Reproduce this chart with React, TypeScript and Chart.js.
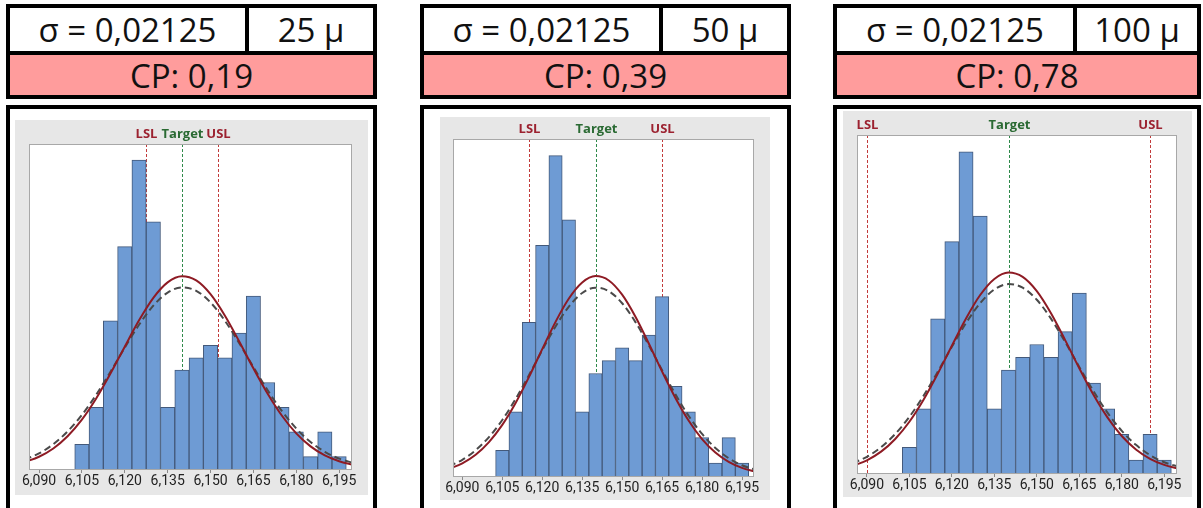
import React, { useEffect, useRef } from "react";
import { Chart, registerables } from "chart.js";

Chart.register(...registerables);

// ---------- data ----------
const binCenters = [
  6.105, 6.11, 6.115, 6.12, 6.125, 6.13, 6.135, 6.14, 6.145, 6.15,
  6.155, 6.16, 6.165, 6.17, 6.175, 6.18, 6.185, 6.19, 6.195,
];
const binCounts = [2, 5, 12, 18, 25, 20, 5, 8, 9, 10, 9, 11, 14, 7, 5, 3, 1, 3, 1];

const curveX = [
  6.085, 6.09, 6.095, 6.1, 6.105, 6.11, 6.115, 6.12, 6.125, 6.13, 6.135, 6.14,
  6.145, 6.15, 6.155, 6.16, 6.165, 6.17, 6.175, 6.18, 6.185, 6.19, 6.195, 6.2,
];
const overallCurve = [
  0.56, 0.99, 1.66, 2.65, 3.99, 5.7, 7.72, 9.9, 12.03, 13.85, 15.1, 15.6,
  15.26, 14.15, 12.43, 10.34, 8.15, 6.09, 4.31, 2.88, 1.83, 1.1, 0.63, 0.34,
];
const withinCurve = [
  0.76, 1.26, 2.01, 3.04, 4.37, 6.01, 7.87, 9.82, 11.67, 13.22, 14.28, 14.7,
  14.42, 13.48, 12.01, 10.2, 8.25, 6.37, 4.68, 3.28, 2.19, 1.39, 0.84, 0.49,
];

const tickValues = [6.09, 6.105, 6.12, 6.135, 6.15, 6.165, 6.18, 6.195];

const sigmaLabel = "σ = 0,02125";
const toleranceLabels = ["25 μ", "50 μ", "100 μ"];
const cpLabels = ["CP: 0,19", "CP: 0,39", "CP: 0,78"];
const lslValues = [6.1275, 6.115, 6.09];
const uslValues = [6.1525, 6.165, 6.19];
const targetValue = 6.14;

// ---------- layout (page pixel coordinates) ----------
type Geo = {
  left: number; right: number; divider: number;
  grey: { l: number; t: number; w: number; h: number };
  plot: { l: number; t: number; r: number; b: number };
};
const panels: Geo[] = [
  { left: 6, right: 377, divider: 245,
    grey: { l: 15, t: 120, w: 353, h: 375 },
    plot: { l: 29, t: 144, r: 352, b: 469 } },
  { left: 420, right: 791, divider: 659,
    grey: { l: 440, t: 117, w: 330, h: 383 },
    plot: { l: 453, t: 139, r: 754, b: 476 } },
  { left: 833, right: 1201, divider: 1073,
    grey: { l: 843, t: 111, w: 349, h: 386 },
    plot: { l: 857, t: 135, r: 1177, b: 473 } },
];

const B = 4; // border width
const HEADER_TOP = 4;
const HEADER_MID = 51;
const HEADER_BOTTOM = 99;
const BOX_TOP = 105;

function Histogram({ idx }: { idx: number }) {
  const ref = useRef<HTMLCanvasElement | null>(null);
  const g = panels[idx];
  useEffect(() => {
    if (!ref.current) return;
    const lsl = lslValues[idx];
    const usl = uslValues[idx];
    const padL = g.plot.l - g.grey.l;
    const padR = g.grey.l + g.grey.w - g.plot.r;
    const padT = g.plot.t - g.grey.t;
    const axisH = g.grey.t + g.grey.h - g.plot.b;

    const specPlugin = {
      id: "spec",
      beforeDatasetsDraw(chart: any) {
        const { ctx, chartArea: a, scales } = chart;
        const x = scales.x;
        ctx.save();
        ctx.fillStyle = "#ffffff";
        ctx.fillRect(a.left, a.top, a.right - a.left, a.bottom - a.top);
        const lines = [
          { v: lsl, label: "LSL", line: "#c23b3b", text: "#9c2230" },
          { v: targetValue, label: "Target", line: "#2f8a4a", text: "#2a6a33" },
          { v: usl, label: "USL", line: "#c23b3b", text: "#9c2230" },
        ];
        for (const l of lines) {
          const px = Math.round(x.getPixelForValue(l.v)) + 0.5;
          ctx.strokeStyle = l.line;
          ctx.lineWidth = 1;
          ctx.setLineDash([3, 2]);
          ctx.beginPath();
          ctx.moveTo(px, a.top);
          ctx.lineTo(px, a.bottom);
          ctx.stroke();
          ctx.setLineDash([]);
          ctx.fillStyle = l.text;
          ctx.font = "bold 13px 'Open Sans'";
          ctx.textAlign = "center";
          ctx.textBaseline = "middle";
          ctx.fillText(l.label, px, a.top - 10);
        }
        ctx.restore();
      },
      afterDatasetsDraw(chart: any) {
        const { ctx, chartArea: a } = chart;
        ctx.save();
        ctx.strokeStyle = "#a8a8a8";
        ctx.lineWidth = 1;
        ctx.strokeRect(a.left + 0.5, a.top + 0.5, a.right - a.left - 1, a.bottom - a.top);
        ctx.restore();
      },
    };

    const chart = new Chart(ref.current, {
      type: "bar",
      data: {
        datasets: [
          {
            type: "line",
            data: curveX.map((x, i) => ({ x, y: withinCurve[i] })),
            borderColor: "#4a4a4a",
            borderWidth: 2,
            borderDash: [7, 4],
            pointRadius: 0,
            cubicInterpolationMode: "monotone",
            order: 1,
          } as any,
          {
            type: "line",
            data: curveX.map((x, i) => ({ x, y: overallCurve[i] })),
            borderColor: "#8e1b24",
            borderWidth: 2,
            pointRadius: 0,
            cubicInterpolationMode: "monotone",
            order: 0,
          } as any,
          {
            type: "bar",
            data: binCenters.map((x, i) => ({ x, y: binCounts[i] })),
            backgroundColor: "#6e9bd4",
            borderColor: "#43597a",
            borderWidth: 1,
            barPercentage: 1,
            categoryPercentage: 1,
            order: 2,
          } as any,
        ],
      },
      options: {
        animation: false,
        responsive: false,
        maintainAspectRatio: false,
        events: [],
        layout: { padding: { left: padL, right: padR, top: padT, bottom: 0 } },
        plugins: { legend: { display: false }, tooltip: { enabled: false } },
        scales: {
          x: {
            type: "linear",
            min: 6.0865,
            max: 6.1995,
            offset: false,
            grid: {
              display: true,
              drawOnChartArea: false,
              drawTicks: true,
              tickLength: 4,
              color: "#8a8a8a",
              offset: false,
            },
            border: { display: false },
            afterBuildTicks: (scale: any) => {
              scale.ticks = tickValues.map((v) => ({ value: v }));
            },
            afterFit: (scale: any) => {
              scale.height = axisH;
            },
            ticks: {
              autoSkip: false,
              maxRotation: 0,
              padding: 0,
              color: "#222222",
              font: { family: "Roboto", size: 14 },
              callback: (v: any) => Number(v).toFixed(3).replace(".", ","),
            },
          },
          y: { display: false, min: 0, max: 26.3 },
        },
      } as any,
      plugins: [specPlugin],
    });
    return () => chart.destroy();
  }, [idx]);

  return (
    <canvas
      ref={ref}
      width={g.grey.w}
      height={g.grey.h}
      style={{
        position: "absolute",
        left: g.grey.l,
        top: g.grey.t,
        width: g.grey.w,
        height: g.grey.h,
        background: "#e7e7e7",
        display: "block",
      }}
    />
  );
}

function Panel({ idx }: { idx: number }) {
  const g = panels[idx];
  const font = "'Open Sans', 'Noto Sans', sans-serif";
  const cell: React.CSSProperties = {
    position: "absolute",
    display: "flex",
    alignItems: "center",
    justifyContent: "center",
    fontFamily: font,
    fontSize: 33,
    color: "#111",
    lineHeight: 1,
    whiteSpace: "nowrap",
  };
  const innerL = g.left + B;
  const innerR = g.right - B;
  return (
    <>
      {/* header box */}
      <div
        style={{
          position: "absolute",
          left: g.left,
          top: HEADER_TOP,
          width: g.right - g.left,
          height: HEADER_BOTTOM - HEADER_TOP,
          background: "#000",
        }}
      />
      <div style={{ ...cell, left: innerL, top: HEADER_TOP + B, width: g.divider - innerL, height: HEADER_MID - HEADER_TOP - B, background: "#fff" }}>
        {sigmaLabel}
      </div>
      <div style={{ ...cell, left: g.divider + B, top: HEADER_TOP + B, width: innerR - g.divider - B, height: HEADER_MID - HEADER_TOP - B, background: "#fff" }}>
        {toleranceLabels[idx]}
      </div>
      <div style={{ ...cell, left: innerL, top: HEADER_MID + B, width: innerR - innerL, height: HEADER_BOTTOM - B - HEADER_MID - B, background: "#ff9c9c" }}>
        {cpLabels[idx]}
      </div>
      {/* chart box */}
      <div
        style={{
          position: "absolute",
          left: g.left,
          top: BOX_TOP,
          width: g.right - g.left - 2 * B,
          height: 420,
          border: `${B}px solid #000`,
          background: "#fff",
        }}
      />
      <Histogram idx={idx} />
    </>
  );
}

export default function App() {
  return (
    <div
      style={{
        position: "absolute",
        left: 0,
        top: 0,
        width: 1203,
        height: 508,
        overflow: "hidden",
        background: "#fff",
      }}
    >
      <Panel idx={0} />
      <Panel idx={1} />
      <Panel idx={2} />
    </div>
  );
}
